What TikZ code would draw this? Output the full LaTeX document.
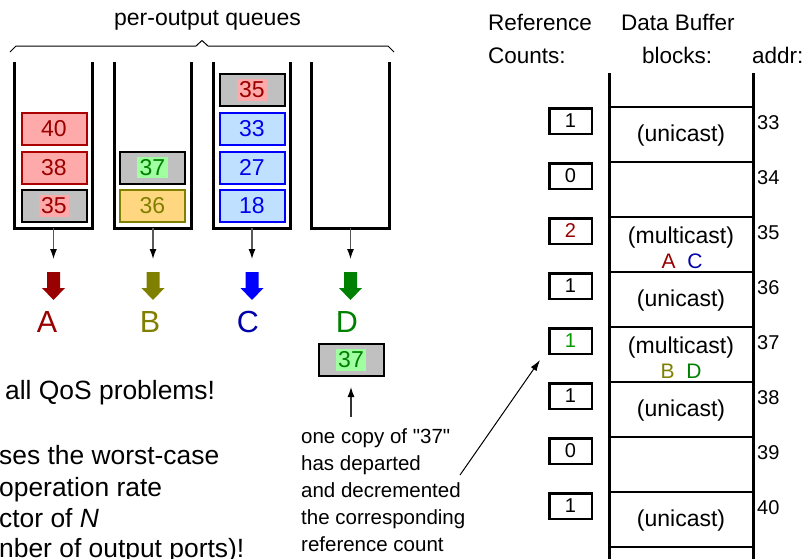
\documentclass[tikz,border=0pt]{standalone}
\usepackage{fontspec}
\setmainfont{Liberation Sans}
\usetikzlibrary{arrows.meta}
\definecolor{redF}{HTML}{FFAAAA}
\definecolor{redB}{HTML}{AA0000}
\definecolor{redT}{HTML}{990000}
\definecolor{greyF}{HTML}{C0C0C0}
\definecolor{yelF}{HTML}{FFD780}
\definecolor{oliveC}{HTML}{808000}
\definecolor{blueF}{HTML}{C0E0FF}
\definecolor{blueB}{HTML}{0000FF}
\definecolor{blueT}{HTML}{0000EE}
\definecolor{blueL}{HTML}{0000AA}
\definecolor{greenHL}{HTML}{A0FFA0}
\definecolor{greenT}{HTML}{008000}
\definecolor{greenC}{HTML}{009900}
\setlength{\fboxsep}{2.5pt}
\newcommand{\hlbox}[3]{\colorbox{#1}{\textcolor{#2}{#3}}}
\begin{document}
\begin{tikzpicture}[x=1pt,y=-1pt,
  wall/.style={line width=3pt},
  qframe/.style={minimum width=77pt, minimum height=166pt, inner sep=0pt},
  qbox/.style={draw, line width=2pt, minimum width=65pt, minimum height=32pt, inner sep=0pt, font=\fontsize{23}{27}\selectfont},
  redbox/.style={qbox, draw=redB, fill=redF, text=redT},
  greybox/.style={qbox, draw=black, fill=greyF},
  yelbox/.style={qbox, draw=oliveC, fill=yelF, text=oliveC},
  bluebox/.style={qbox, draw=blueB, fill=blueF, text=blueT},
  thinarr/.style={draw=black!65, line width=1.3pt, -{Latex[color=black,length=10pt,width=7pt]}},
  bigletter/.style={font=\fontsize{30.5}{34}\selectfont, inner sep=0pt},
  rowbox/.style={draw, line width=2.5pt, minimum width=144pt, minimum height=55pt, inner sep=0pt},
  cbox/.style={draw, line width=2.5pt, minimum width=42.5pt, minimum height=25.5pt, inner sep=0pt, font=\fontsize{20}{24}\selectfont},
  addr/.style={anchor=base west, inner sep=0pt, font=\fontsize{20}{24}\selectfont},
  rowtxt/.style={anchor=base, inner sep=0pt, font=\fontsize{23}{27}\selectfont},
  rowlet/.style={anchor=base, inner sep=0pt, font=\fontsize{21}{25}\selectfont},
  head/.style={anchor=base west, inner sep=0pt, font=\fontsize{22.5}{27}\selectfont},
  bigtxt/.style={anchor=base west, inner sep=0pt, font=\fontsize{26.4}{31}\selectfont},
]
\useasboundingbox (0,0) rectangle (809,558);
\clip (0,0) rectangle (809,558);

% title and brace
\node[anchor=base, inner sep=0pt, font=\fontsize{23}{27}\selectfont] (title) at (207.5,25) {per-output queues};
\draw[line width=1pt, line join=round] (10,52) -- (16,46) -- (196,46) -- (202,40.5) -- (208,46) -- (388,46) -- (394,52);

% queues
\foreach \i/\x in {1/53.5,2/153,3/252,4/350.5}{
  \node[qframe] (q\i) at (\x,145) {};
  \draw[wall] (q\i.north west) -- (q\i.south west) -- (q\i.south east) -- (q\i.north east);
  \coordinate (t\i) at (\x,259);
  \coordinate (fa\i) at (\x,272);
  \draw[thinarr] (q\i.south) -- (t\i);
}

% queue contents
\node[redbox] (a40) at (54,129) {40};
\node[redbox] (a38) at (54,167.5) {38};
\node[greybox] (a35) at (54,206) {\hlbox{redF}{redT}{35}};
\node[greybox] (b37) at (152.5,167.5) {\hlbox{greenHL}{greenT}{37}};
\node[yelbox] (b36) at (152.5,206) {36};
\node[greybox] (c35) at (252,90) {\hlbox{redF}{redT}{35}};
\node[bluebox] (c33) at (252,129) {33};
\node[bluebox] (c27) at (252,167.5) {27};
\node[bluebox] (c18) at (252,206) {18};

% fat arrows
\foreach \i/\c in {1/redT,2/oliveC,3/blueB,4/greenT}{
  \fill[\c] (fa\i) ++(-6.5,0) -- ++(13,0) -- ++(0,16) -- ++(5,0) -- ++(-11.5,12) -- ++(-11.5,-12) -- ++(5,0) -- cycle;
}
\node[bigletter, text=redT] (lA) at (47,322) {A};
\node[bigletter, text=oliveC] (lB) at (150,322) {B};
\node[bigletter, text=blueL] (lC) at (248,322) {C};
\node[bigletter, text=greenT] (lD) at (347,322) {D};

% departed copy
\node[greybox] (dep) at (351,360) {\hlbox{greenHL}{greenT}{37}};
\coordinate (upA) at (351,417);
\draw[draw=black!80, line width=1.2pt, -{Latex[color=black,length=10pt,width=7pt]}, shorten >=10pt] (upA) -- (dep.south);

\node[anchor=north west, inner sep=0pt, align=left, font=\fontsize{20.5}{27.2}\selectfont] (note) at (301,428)
  {one copy of \textquotedbl37\textquotedbl\\has departed\\and decremented\\the corresponding\\reference count};
\coordinate (dg1) at (460,475);
\coordinate (dg2) at (540,360);
\draw[line width=1pt, -{Latex[length=11pt,width=7pt]}] (dg1) -- (dg2);

% left text
\node[bigtxt] (s1) at (5,399) {all QoS problems!};
\node[bigtxt] (s2) at (-1,464) {ses the worst-case};
\node[bigtxt] (s3) at (-1,496) {operation rate};
\node[bigtxt] (s4) at (-1,527) {ctor of \textit{N}};
\node[bigtxt] (s5) at (-1,557) {nber of output ports)!};

% right headers
\node[head] (h1) at (488,30) {Reference};
\node[head] (h2) at (488,63) {Counts:};
\node[head] (h3) at (621,30) {Data Buffer};
\node[head] (h4) at (642,63) {blocks:};
\node[head] (h5) at (752,63) {addr:};

% buffer
\coordinate (bTL) at (609,73);
\coordinate (bBL) at (609,575);
\coordinate (bTR) at (753,73);
\coordinate (bBR) at (753,575);
\foreach \k/\a in {0/33,1/34,2/35,3/36,4/37,5/38,6/39,7/40,8/41}{
  \node[rowbox] (r\a) at (681,{134.5+55*\k}) {};
}
\draw[wall] (bTL) -- (bBL);
\draw[wall] (bTR) -- (bBR);

\foreach \k/\a/\n in {0/33/1,1/34/0,3/36/1,5/38/1,6/39/0,7/40/1}{
  \node[cbox] (n\a) at (570.5,{121+55*\k}) {\n};
}
\node[cbox, text=redT] (n35) at (570.5,231) {2};
\node[cbox, text=greenC] (n37) at (570.5,341) {1};

\foreach \k/\a in {0/33,1/34,2/35,3/36,4/37,5/38,6/39,7/40}{
  \node[addr] (ad\a) at (757,{129+55*\k}) {\a};
}

\foreach \k/\a in {0/33,3/36,5/38,7/40}{
  \node[rowtxt] (u\a) at (681,{141+55*\k}) {(unicast)};
}
\node[rowtxt] (m35) at (681,243) {(multicast)};
\node[rowlet] (l35) at (682,268) {\textcolor{redT}{A}\ \ \textcolor{blueL}{C}};
\node[rowtxt] (m37) at (681,353) {(multicast)};
\node[rowlet] (l37) at (681,378) {\textcolor{oliveC}{B}\ \ \textcolor{greenT}{D}};
\end{tikzpicture}
\end{document}
